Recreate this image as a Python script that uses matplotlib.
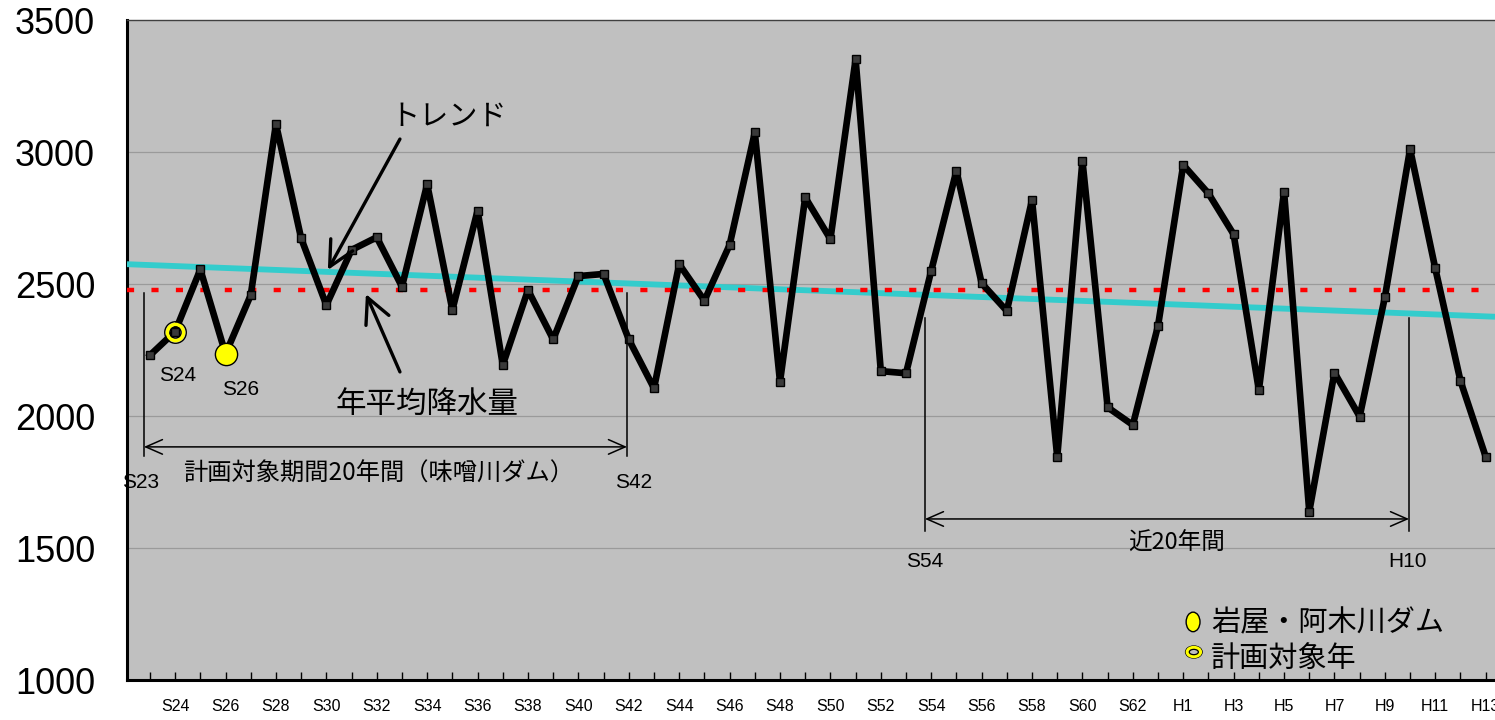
"""Annual precipitation with trend and mean lines (S23 - H13)."""
import matplotlib
matplotlib.use("Agg")
import matplotlib.pyplot as plt
from matplotlib.patches import Ellipse

# --- data ---
years = [f"S{n}" for n in range(23, 64)] + [f"H{n}" for n in range(1, 14)]
rain = [2230, 2320, 2555, 2235, 2458, 3106, 2673, 2420, 2629, 2677,
        2490, 2878, 2402, 2778, 2193, 2477, 2290, 2530, 2538, 2290,
        2105, 2575, 2437, 2648, 3074, 2130, 2828, 2670, 3351, 2170,
        2162, 2550, 2929, 2503, 2398, 2818, 1845, 2967, 2033, 1966,
        2342, 2951, 2843, 2688, 2098, 2850, 1638, 2164, 1998, 2450,
        3011, 2559, 2133, 1846]
mean_rain = 2478
trend_ends = [2575, 2376]          # trend value at left / right plot edge
yticks = [1000, 1500, 2000, 2500, 3000, 3500]
plan_year = "S24"                  # 計画対象年
dam_year = "S26"                   # 岩屋・阿木川ダム

JP = ["Noto Sans CJK JP", "DejaVu Sans"]
NUM = ["Liberation Sans", "DejaVu Sans"]
BG = "#c0c0c0"

x = list(range(len(years)))
xlo, xhi = -0.91, len(years) - 1 + 0.37

fig = plt.figure(figsize=(14.95, 7.2), dpi=100)
ax = fig.add_axes([127 / 1495, 40 / 720, 1 - 127 / 1495, 660 / 720])
ax.set_facecolor(BG)

# grid
for v in yticks[1:-1]:
    ax.axhline(v, color="#9a9a9a", lw=0.9, zorder=1)

# trend + mean
ax.plot([xlo, xhi], trend_ends, color="#33cccc", lw=4.2, zorder=3,
        solid_capstyle="butt")
ax.plot([xlo, xhi], [mean_rain, mean_rain], color="#ff0000", lw=3.2,
        ls=(0, (1.6, 3.9)), zorder=3)

# precipitation series
ax.plot(x, rain, color="black", lw=4.8, marker="s", ms=5.2, mfc="#3a3a3a",
        mec="black", mew=1.0, solid_joinstyle="bevel", zorder=4)

# highlighted years
i_dam = years.index(dam_year)
ax.plot(x[i_dam], rain[i_dam], "o", ms=16, mfc="#ffff00", mec="black",
        mew=1.0, zorder=6)
i_plan = years.index(plan_year)
ax.plot(x[i_plan], rain[i_plan], "o", ms=15.5, mfc="none", mec="black", mew=1.0, zorder=6)
ax.plot(x[i_plan], rain[i_plan], "o", ms=11.5, mfc="none", mec="#ffff00", mew=2.6, zorder=6)
ax.plot(x[i_plan], rain[i_plan], "o", ms=8.0, mfc="none", mec="black", mew=1.0, zorder=6)
ax.text(1.11, 2152, "S24", fontsize=15, family=NUM, ha="center", va="center")
ax.text(3.61, 2102, "S26", fontsize=15, family=NUM, ha="center", va="center")

# annotations
arrow = dict(arrowstyle="->,head_length=0.9,head_width=0.45", lw=2.4,
             color="black", mutation_scale=20, shrinkA=0, shrinkB=0)
ax.annotate("", xy=(7.06, 2553), xytext=(9.92, 3049), arrowprops=arrow, zorder=7)
ax.annotate("", xy=(8.57, 2462), xytext=(9.92, 2167), arrowprops=arrow, zorder=7)
ax.text(11.87, 3133, "トレンド", fontsize=21, family=JP, ha="center", va="center")
ax.text(10.99, 2045, "年平均降水量", fontsize=22, family=JP, ha="center", va="center")

# planning period brackets
bar = dict(arrowstyle="<->,head_length=0.8,head_width=0.35", lw=1.1,
           color="black", mutation_scale=15, shrinkA=0, shrinkB=0)
for x0, x1, top, bot, yarr in [(-0.24, 18.93, 2466, 1848, 1883),
                               (30.75, 49.96, 2371, 1564, 1610)]:
    ax.plot([x0, x0], [top, bot], color="black", lw=1.1, zorder=5)
    ax.plot([x1, x1], [top, bot], color="black", lw=1.1, zorder=5)
    ax.annotate("", xy=(x1, yarr), xytext=(x0, yarr), arrowprops=bar, zorder=5)

ax.text(9.09, 1780, "計画対象期間20年間（味噌川ダム）", fontsize=17.5, family=JP,
        ha="center", va="center")
ax.text(-0.36, 1750, "S23", fontsize=15, family=NUM, ha="center", va="center")
ax.text(19.21, 1750, "S42", fontsize=15, family=NUM, ha="center", va="center")
ax.text(40.75, 1519, "近20年間", fontsize=17, family=JP, ha="center", va="center")
ax.text(30.75, 1447, "S54", fontsize=15, family=NUM, ha="center", va="center")
ax.text(49.88, 1447, "H10", fontsize=15, family=NUM, ha="center", va="center")

# legend (drawn by hand as in the original)
ax.add_patch(Ellipse((41.39, 1220), 0.55, 74, fc="#ffff00", ec="black", lw=1.0, zorder=6))
ax.add_patch(Ellipse((41.42, 1106), 0.66, 46, fc="none", ec="black", lw=0.9, zorder=6))
ax.add_patch(Ellipse((41.42, 1106), 0.52, 34, fc="none", ec="#ffff00", lw=2.4, zorder=6))
ax.add_patch(Ellipse((41.42, 1106), 0.36, 20, fc="none", ec="black", lw=0.9, zorder=6))
ax.text(42.1, 1214, "岩屋・阿木川ダム", fontsize=21, family=JP, ha="left", va="center")
ax.text(42.1, 1080, "計画対象年", fontsize=21, family=JP, ha="left", va="center")

# axes
ax.set_xlim(xlo, xhi)
ax.set_ylim(yticks[0], yticks[-1])
ax.set_xticks(x)
ax.set_xticklabels([y if i % 2 == 1 else "" for i, y in enumerate(years)],
                   fontsize=11.5, family=NUM)
ax.tick_params(axis="x", direction="in", length=6, width=1.0, pad=14, colors="black")
ax.set_yticks(yticks)
ax.set_yticklabels([str(v) for v in yticks], fontsize=26, family=NUM)
ax.tick_params(axis="y", length=0, pad=23)
ax.spines["left"].set_linewidth(2.2)
ax.spines["bottom"].set_linewidth(2.2)
ax.spines["top"].set_linewidth(1.0)
ax.spines["top"].set_color("#404040")
ax.spines["right"].set_visible(False)

fig.savefig("out.png", dpi=100, facecolor="white")
